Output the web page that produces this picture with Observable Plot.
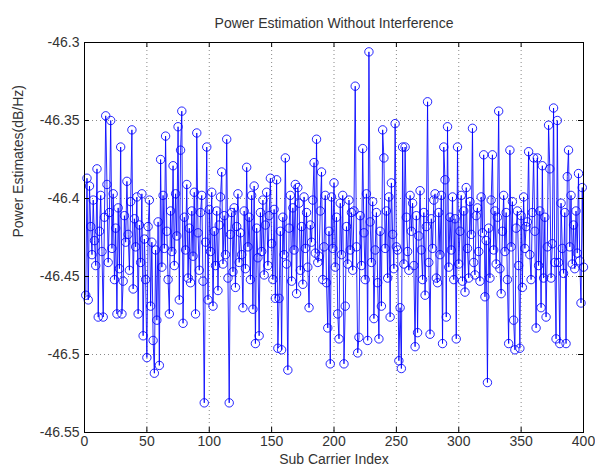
<!DOCTYPE html>
<html><head><meta charset="utf-8">
<script src="https://cdn.jsdelivr.net/npm/d3@7"></script>
<script src="https://cdn.jsdelivr.net/npm/@observablehq/plot@0.6"></script>
<style>
body{margin:0;background:#fff;}
#chart{width:595px;height:475px;}
</style></head><body><div id="chart"></div>
<script>
const title = "Power Estimation Without Interference";
const xLabel = "Sub Carrier Index";
const yLabel = "Power Estimates(dB/Hz)";
const xTicks = [0, 50, 100, 150, 200, 250, 300, 350, 400];
const yTicks = [-46.3, -46.35, -46.4, -46.45, -46.5, -46.55];
const power = [
-46.462,-46.387,-46.465,-46.392,-46.418,-46.436,-46.401,-46.427,-46.443,-46.381,
-46.476,-46.421,-46.398,-46.434,-46.476,-46.412,-46.347,-46.391,-46.441,-46.409,
-46.350,-46.432,-46.397,-46.452,-46.419,-46.474,-46.406,-46.445,-46.367,-46.474,
-46.453,-46.411,-46.428,-46.389,-46.423,-46.446,-46.402,-46.356,-46.458,-46.413,
-46.431,-46.399,-46.474,-46.417,-46.441,-46.397,-46.488,-46.426,-46.452,-46.502,
-46.418,-46.401,-46.469,-46.428,-46.491,-46.512,-46.433,-46.478,-46.415,-46.507,
-46.375,-46.444,-46.398,-46.432,-46.360,-46.421,-46.452,-46.474,-46.408,-46.434,
-46.379,-46.443,-46.397,-46.424,-46.354,-46.465,-46.369,-46.344,-46.480,-46.412,
-46.433,-46.391,-46.451,-46.419,-46.454,-46.408,-46.437,-46.396,-46.474,-46.358,
-46.422,-46.446,-46.409,-46.398,-46.453,-46.531,-46.428,-46.367,-46.465,-46.407,
-46.434,-46.396,-46.469,-46.421,-46.443,-46.408,-46.459,-46.417,-46.399,-46.383,
-46.442,-46.411,-46.436,-46.362,-46.451,-46.531,-46.423,-46.409,-46.447,-46.406,
-46.457,-46.418,-46.397,-46.441,-46.422,-46.436,-46.470,-46.408,-46.445,-46.380,
-46.431,-46.412,-46.452,-46.398,-46.471,-46.392,-46.493,-46.419,-46.438,-46.488,
-46.409,-46.434,-46.401,-46.449,-46.417,-46.396,-46.443,-46.411,-46.387,-46.429,
-46.452,-46.407,-46.464,-46.388,-46.496,-46.464,-46.421,-46.497,-46.412,-46.436,
-46.374,-46.442,-46.510,-46.419,-46.398,-46.453,-46.406,-46.433,-46.391,-46.461,
-46.393,-46.403,-46.446,-46.418,-46.455,-46.399,-46.432,-46.409,-46.444,-46.470,
-46.417,-46.428,-46.401,-46.377,-46.435,-46.362,-46.441,-46.437,-46.408,-46.383,
-46.452,-46.431,-46.398,-46.454,-46.483,-46.421,-46.506,-46.399,-46.432,-46.390,
-46.444,-46.412,-46.474,-46.490,-46.403,-46.436,-46.398,-46.506,-46.469,-46.418,
-46.442,-46.401,-46.433,-46.409,-46.446,-46.408,-46.328,-46.431,-46.499,-46.489,
-46.411,-46.443,-46.368,-46.422,-46.452,-46.397,-46.491,-46.306,-46.415,-46.441,
-46.402,-46.477,-46.433,-46.409,-46.454,-46.490,-46.421,-46.469,-46.356,-46.374,
-46.432,-46.408,-46.451,-46.399,-46.476,-46.390,-46.423,-46.445,-46.352,-46.431,
-46.433,-46.504,-46.470,-46.509,-46.367,-46.442,-46.367,-46.412,-46.434,-46.446,
-46.398,-46.421,-46.403,-46.443,-46.495,-46.411,-46.486,-46.424,-46.395,-46.433,
-46.452,-46.409,-46.462,-46.418,-46.338,-46.441,-46.487,-46.413,-46.432,-46.401,
-46.397,-46.451,-46.454,-46.409,-46.436,-46.398,-46.493,-46.367,-46.388,-46.476,
-46.354,-46.444,-46.412,-46.433,-46.399,-46.452,-46.413,-46.490,-46.367,-46.442,
-46.421,-46.398,-46.453,-46.408,-46.460,-46.393,-46.432,-46.451,-46.402,-46.423,
-46.355,-46.441,-46.449,-46.411,-46.406,-46.434,-46.453,-46.399,-46.422,-46.372,
-46.463,-46.427,-46.518,-46.419,-46.451,-46.401,-46.372,-46.433,-46.408,-46.442,
-46.412,-46.344,-46.445,-46.461,-46.421,-46.398,-46.434,-46.409,-46.452,-46.493,
-46.369,-46.431,-46.402,-46.478,-46.497,-46.419,-46.408,-46.443,-46.496,-46.411,
-46.457,-46.399,-46.432,-46.418,-46.415,-46.370,-46.436,-46.452,-46.409,-46.374,
-46.421,-46.483,-46.374,-46.443,-46.408,-46.470,-46.379,-46.451,-46.412,-46.476,
-46.431,-46.353,-46.381,-46.451,-46.429,-46.342,-46.441,-46.490,-46.350,-46.441,
-46.493,-46.403,-46.432,-46.448,-46.409,-46.493,-46.386,-46.369,-46.431,-46.398,
-46.442,-46.417,-46.445,-46.408,-46.435,-46.384,-46.440,-46.467,-46.393,-46.444
];
const subCarrier = power.map((_, i) => i + 1);
const data = power.map((p, i) => ({k: subCarrier[i], p}));

const blue = "#0000ff";
const chart = Plot.plot({
  width: 595, height: 475,
  marginLeft: 84, marginRight: 12, marginTop: 42, marginBottom: 43,
  style: {fontFamily: "'Liberation Sans', Arial, sans-serif", fontSize: "14px", background: "#fff", color: "#333"},
  x: {domain: [0, 400]},
  y: {domain: [-46.55, -46.3]},
  marks: [
    Plot.gridX(xTicks, {stroke: "#888", strokeOpacity: 1, strokeDasharray: "1,3"}),
    Plot.gridY(yTicks, {stroke: "#888", strokeOpacity: 1, strokeDasharray: "1,3"}),
    Plot.line(data, {x: "k", y: "p", stroke: blue, strokeWidth: 1, strokeOpacity: 0.85}),
    Plot.dot(data, {x: "k", y: "p", r: 4.2, stroke: blue, strokeWidth: 1, strokeOpacity: 0.85, fill: "none"}),
    Plot.tickX(xTicks, {x: d => d, insetTop: 385, stroke: "#000"}),
    Plot.tickX(xTicks, {x: d => d, insetBottom: 385, stroke: "#000"}),
    Plot.tickY(yTicks, {y: d => d, insetRight: 494, stroke: "#000"}),
    Plot.tickY(yTicks, {y: d => d, insetLeft: 494, stroke: "#000"}),
    Plot.axisX(xTicks, {tickSize: 0, tickPadding: 4, tickFormat: d => String(d), fontSize: 14, letterSpacing: "0.8px", label: null}),
    Plot.axisY(yTicks, {tickSize: 0, tickPadding: 5, tickFormat: d => String(d), fontSize: 14, letterSpacing: "0.6px", label: null}),
    Plot.frame({stroke: "#000"}),
    Plot.text([title], {frameAnchor: "top", dy: -24, fontSize: 14, text: d => d}),
    Plot.text([xLabel], {frameAnchor: "bottom", dy: 31, fontSize: 14, text: d => d}),
    Plot.text([yLabel], {frameAnchor: "left", dx: -66, rotate: -90, fontSize: 14, letterSpacing: "1px", text: d => d})
  ]
});
document.getElementById("chart").appendChild(chart);
</script>
</body></html>
